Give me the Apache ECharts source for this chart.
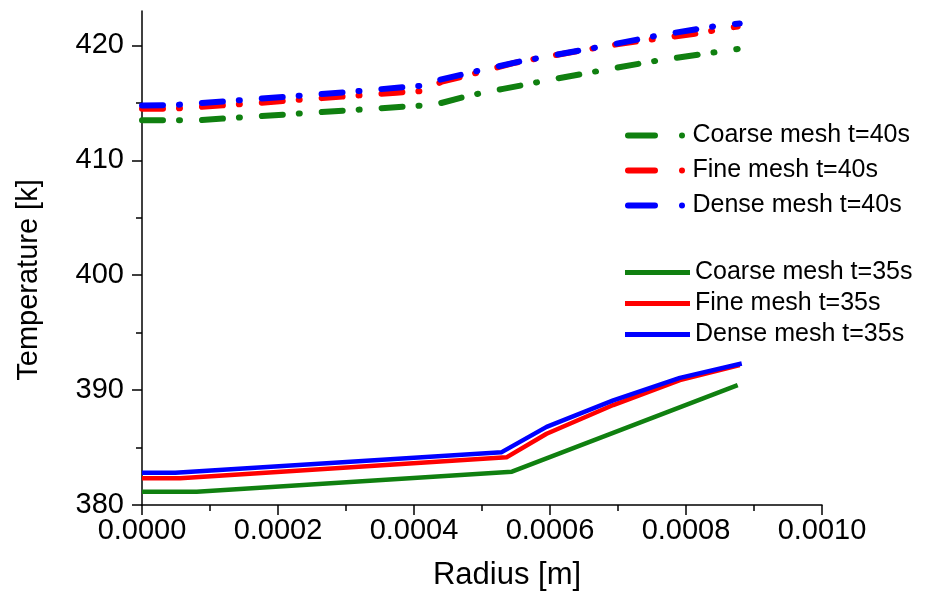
<!DOCTYPE html>
<html><head><meta charset="utf-8">
<script src="https://cdn.jsdelivr.net/npm/echarts@6/dist/echarts.min.js"></script>
<style>html,body{margin:0;padding:0;background:#fff}#c{width:930px;height:592px}</style>
</head><body><div id="c"></div>
<script>
// ---- data (radius [m], temperature [K]) ----
const coarse40 = [[0,413.48],[0.0000794,413.48],[0.000431,414.85],[0.000482,415.65],[0.000531,416.22],[0.000596,416.96],[0.000659,417.65],[0.00075,418.61],[0.000838,419.37],[0.000876,419.69]];
const fine40   = [[0,414.5],[0.000045,414.5],[0.000156,414.93],[0.000265,415.42],[0.000374,415.89],[0.000415,416.05],[0.000441,416.85],[0.000478,417.39],[0.000546,418.46],[0.000596,419.04],[0.000703,420.15],[0.000813,421.02],[0.000876,421.65]];
const dense40  = [[0,414.78],[0.000044,414.8],[0.000159,415.3],[0.000303,415.95],[0.000397,416.43],[0.000412,416.5],[0.000438,417.02],[0.000497,417.83],[0.000556,418.61],[0.000684,420.0],[0.000759,420.87],[0.00084,421.65],[0.000879,421.92]];
const coarse35 = [[0,381.16],[0.0000805,381.16],[0.000544,382.9],[0.000876,390.43]];
const fine35   = [[0,382.32],[0.000056,382.32],[0.000536,384.15],[0.000595,386.2],[0.000693,388.7],[0.000791,390.87],[0.000879,392.17]];
const dense35  = [[0,382.81],[0.000049,382.81],[0.000529,384.6],[0.000595,386.8],[0.000693,389.1],[0.000791,391.07],[0.000882,392.32]];
const names40 = ['Coarse mesh t=40s','Fine mesh t=40s','Dense mesh t=40s'];
const names35 = ['Coarse mesh t=35s','Fine mesh t=35s','Dense mesh t=35s'];
const yMajor = [380,390,400,410,420];
const yMinor = [385,395,405,415];
const xTitle = 'Radius [m]';
const yTitle = 'Temperature [k]';

const GREEN='#108010', RED='#ff0000', BLUE='#0000ff';
const FONT='Liberation Sans, Arial, sans-serif';
const dashDot = 'path://M3,0H30A3,3 0 0 1 30,6H3A3,3 0 0 1 3,0Z M57,0A3,3 0 0 1 57,6A3,3 0 0 1 57,0Z';

function s40(name,data,color){return {name,type:'line',data,symbol:'none',z:3,
  lineStyle:{color,width:6,type:[21,16,1,22],cap:'round',join:'round'},itemStyle:{color}};}
function s35(name,data,color){return {name,type:'line',data,symbol:'none',z:3,
  lineStyle:{color,width:4.5,type:'solid',join:'round'},itemStyle:{color}};}

const chart = echarts.init(document.getElementById('c'),null,{renderer:'canvas'});
chart.setOption({
  animation:false,
  backgroundColor:'#fff',
  textStyle:{fontFamily:FONT},
  grid:{left:142,right:108,top:11,bottom:87,containLabel:false,outerBoundsMode:'none'},
  xAxis:{type:'value',min:0,max:0.001,interval:0.0002,
    name:xTitle,nameLocation:'middle',nameGap:55,
    nameTextStyle:{fontSize:31,color:'#000',fontFamily:FONT,padding:[0,0,0,50]},
    axisLine:{show:true,onZero:false,lineStyle:{color:'#000',width:1.5}},
    axisTick:{show:true,inside:false,length:10,lineStyle:{color:'#000',width:1.5}},
    minorTick:{show:true,splitNumber:2,length:6,lineStyle:{color:'#000',width:1.5}},
    axisLabel:{fontSize:29,color:'#000',margin:11,fontFamily:FONT,formatter:v=>v.toFixed(4)},
    splitLine:{show:false}},
  yAxis:[{type:'value',min:380,max:423,position:'left',
    name:yTitle,nameLocation:'middle',nameGap:99,
    nameTextStyle:{fontSize:29,color:'#000',fontFamily:FONT,padding:[0,44,0,0]},
    axisLine:{show:true,onZero:false,lineStyle:{color:'#000',width:1.5}},
    axisTick:{show:true,length:10,customValues:yMajor,lineStyle:{color:'#000',width:1.5}},
    axisLabel:{fontSize:29,color:'#000',margin:18,fontFamily:FONT,customValues:yMajor},
    splitLine:{show:false}},
   {type:'value',min:380,max:423,position:'left',
    axisLine:{show:false},
    axisTick:{show:true,length:6,customValues:yMinor,lineStyle:{color:'#000',width:1.5}},
    axisLabel:{show:false},splitLine:{show:false}}],
  legend:[
    {data:names40,orient:'vertical',left:620,top:118,itemGap:10,itemWidth:65,itemHeight:6,
     icon:dashDot,textStyle:{fontSize:25,color:'#000',fontFamily:FONT},selectedMode:false},
    {data:names35,orient:'vertical',left:620,top:255,itemGap:6,itemWidth:65,itemHeight:5,
     icon:'rect',textStyle:{fontSize:25,color:'#000',fontFamily:FONT},selectedMode:false}
  ],
  series:[
    s40(names40[0],coarse40,GREEN),
    s40(names40[1],fine40,RED),
    s40(names40[2],dense40,BLUE),
    s35(names35[0],coarse35,GREEN),
    s35(names35[1],fine35,RED),
    s35(names35[2],dense35,BLUE)
  ]
});
</script></body></html>
